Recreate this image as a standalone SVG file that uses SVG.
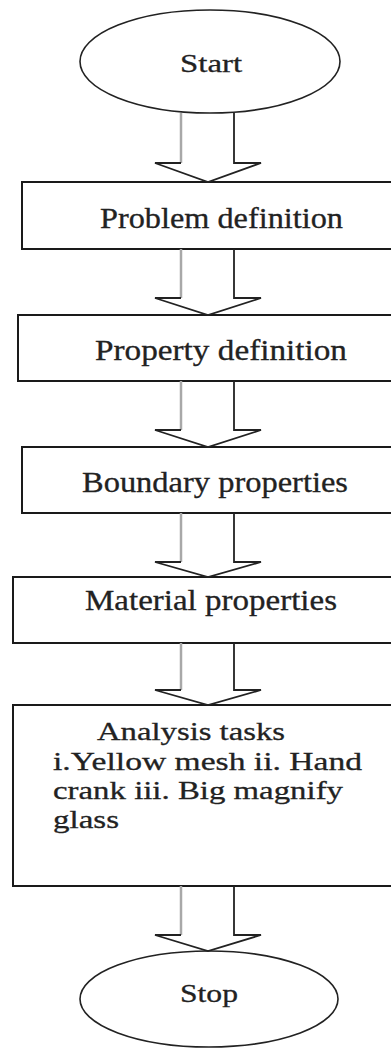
<svg xmlns="http://www.w3.org/2000/svg" width="391" height="1049" viewBox="0 0 391 1049">
<style>
.bg{fill:#ffffff}
.term{fill:#ffffff;stroke:#222;stroke-width:1.6}
.box{fill:#ffffff;stroke:#1a1a1a;stroke-width:2}
.t{font-family:"Liberation Serif","Times New Roman",serif;font-size:29px;fill:#222;stroke:#222;stroke-width:0.3}
.ta{font-family:"Liberation Serif","Times New Roman",serif;font-size:26px;fill:#222;stroke:#222;stroke-width:0.3}
.ts{font-family:"Liberation Serif","Times New Roman",serif;font-size:26px;fill:#222;stroke:#222;stroke-width:0.3}
.sg{fill:none;stroke:#a8a8a8;stroke-width:2.5}
.sb{fill:none;stroke:#222;stroke-width:1.8;stroke-linejoin:miter}
</style>
<rect class="bg" x="0" y="0" width="391" height="1049"/>
<g id="start">
<ellipse class="term" cx="210" cy="61.5" rx="130" ry="51.5"/>
<text class="ts" x="180" y="72" textLength="62" lengthAdjust="spacingAndGlyphs">Start</text>
</g>
<g id="problem">
<rect class="box" x="22" y="182" width="390" height="67"/>
<text class="t" x="100" y="228" textLength="243" lengthAdjust="spacingAndGlyphs">Problem definition</text>
</g>
<g id="property">
<rect class="box" x="18" y="315" width="390" height="66"/>
<text class="t" x="95" y="360" textLength="252" lengthAdjust="spacingAndGlyphs">Property definition</text>
</g>
<g id="boundary">
<rect class="box" x="22" y="447" width="390" height="66"/>
<text class="t" x="82" y="492" textLength="266" lengthAdjust="spacingAndGlyphs">Boundary properties</text>
</g>
<g id="material">
<rect class="box" x="13" y="577" width="400" height="66"/>
<text class="t" x="85" y="610" textLength="252" lengthAdjust="spacingAndGlyphs">Material properties</text>
</g>
<g id="analysis">
<rect class="box" x="13" y="705" width="400" height="181"/>
<text class="ta" x="97" y="740" textLength="188" lengthAdjust="spacingAndGlyphs">Analysis tasks</text>
<text class="ta" x="53" y="770" textLength="309" lengthAdjust="spacingAndGlyphs">i.Yellow mesh ii. Hand</text>
<text class="ta" x="53" y="799" textLength="290" lengthAdjust="spacingAndGlyphs">crank iii. Big magnify</text>
<text class="ta" x="53" y="828" textLength="66" lengthAdjust="spacingAndGlyphs">glass</text>
</g>
<g id="stop">
<ellipse class="term" cx="209" cy="999" rx="129" ry="48"/>
<text class="ts" x="180" y="1002" textLength="58" lengthAdjust="spacingAndGlyphs">Stop</text>
</g>
<g id="connectors">
<path class="sg" d="M181 113 V163"/>
<path class="sb" d="M181 163 H155 L208 182 L261 163 H234 V113"/>
<path class="sg" d="M181 249 V298"/>
<path class="sb" d="M181 298 H155 L208 315 L261 298 H234 V249"/>
<path class="sg" d="M181 381 V430"/>
<path class="sb" d="M181 430 H155 L208 447 L261 430 H234 V381"/>
<path class="sg" d="M181 513 V562"/>
<path class="sb" d="M181 562 H155 L208 577 L261 562 H234 V513"/>
<path class="sg" d="M181 643 V690"/>
<path class="sb" d="M181 690 H155 L208 705 L261 690 H234 V643"/>
<path class="sg" d="M181 886 V935"/>
<path class="sb" d="M181 935 H155 L208 951 L261 935 H234 V886"/>
</g>
</svg>
